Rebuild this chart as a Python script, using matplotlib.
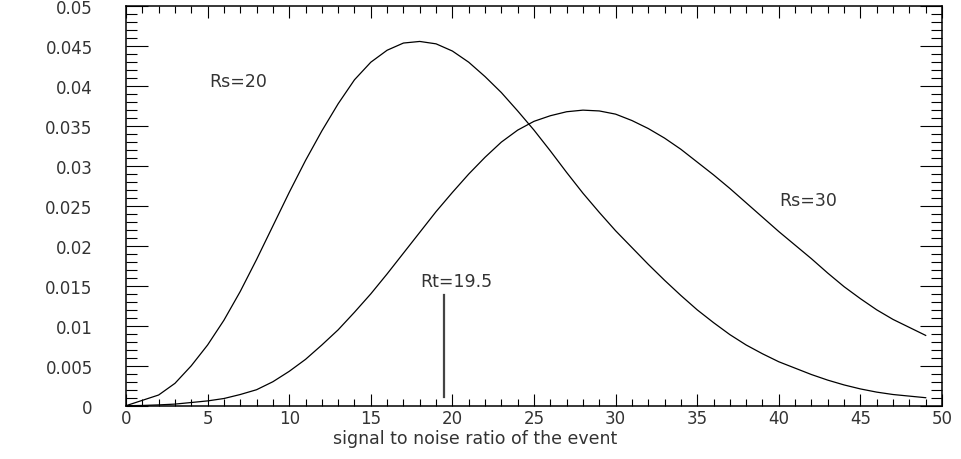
import numpy as np
import matplotlib
matplotlib.use("Agg")
import matplotlib.pyplot as plt
from matplotlib.ticker import MultipleLocator, FixedFormatter, FixedLocator

x = list(range(0, 50))

rs20 = [0.0000, 0.00067, 0.00134, 0.0028, 0.0050, 0.0076, 0.0107, 0.0143, 0.0183, 0.0225,
        0.0267, 0.0307, 0.0344, 0.0378, 0.0408, 0.0430, 0.0445, 0.0454, 0.0456, 0.0453,
        0.0444, 0.0430, 0.0412, 0.0392, 0.0369, 0.0345, 0.0319, 0.0292, 0.0266, 0.0242,
        0.0219, 0.0198, 0.0177, 0.0157, 0.0138, 0.0120, 0.0104, 0.0089, 0.0076, 0.0065,
        0.0055, 0.0047, 0.0039, 0.0032, 0.0026, 0.0021, 0.0017, 0.0014, 0.0012, 0.0010]

rs30 = [0.0000, 0.00003, 0.0001, 0.0002, 0.0004, 0.0006, 0.0009, 0.0014, 0.0020, 0.0030,
        0.0043, 0.0058, 0.0076, 0.0095, 0.0117, 0.0140, 0.0165, 0.0191, 0.0217, 0.0243,
        0.0267, 0.0290, 0.0311, 0.0330, 0.0345, 0.0356, 0.0363, 0.0368, 0.0370, 0.0369,
        0.0365, 0.0357, 0.0347, 0.0335, 0.0321, 0.0305, 0.0289, 0.0272, 0.0254, 0.0236,
        0.0218, 0.0201, 0.0184, 0.0166, 0.0149, 0.0134, 0.0120, 0.0108, 0.0098, 0.0088]

xticks = [0, 5, 10, 15, 20, 25, 30, 35, 40, 45, 50]
xticklabels = ["0", "5", "10", "15", "20", "25", "30", "35", "40", "45", "50"]
yticks = [0, 0.005, 0.01, 0.015, 0.02, 0.025, 0.03, 0.035, 0.04, 0.045, 0.05]
yticklabels = ["0", "0.005", "0.01", "0.015", "0.02", "0.025", "0.03", "0.035", "0.04", "0.045", "0.05"]

rt_value = 19.5
rt_top = 0.0138
rt_bottom = 0.0011
xlabel = "signal to noise ratio of the event"

plt.rcParams['font.family'] = ['DejaVu Sans']

fig = plt.figure(figsize=(9.61, 4.60), dpi=100)
ax = fig.add_axes([126/961, 1 - 406.7/460, 816/961, 399.4/460])

ax.plot(x, rs20, color="black", lw=0.9)
ax.plot(x, rs30, color="black", lw=0.9)
ax.plot([rt_value, rt_value], [rt_bottom, rt_top], color="#444444", lw=1.6)

ax.set_xlim(0, 50)
ax.set_ylim(0, 0.05)

ax.xaxis.set_major_locator(FixedLocator(xticks))
ax.xaxis.set_major_formatter(FixedFormatter(xticklabels))
ax.xaxis.set_minor_locator(MultipleLocator(1))
ax.yaxis.set_major_locator(FixedLocator(yticks))
ax.yaxis.set_major_formatter(FixedFormatter(yticklabels))
ax.yaxis.set_minor_locator(MultipleLocator(0.001))

ax.tick_params(axis="x", which="major", direction="in", length=8.6, width=0.8,
               top=True, bottom=True, pad=2.5, labelsize=12, labelcolor="#333333")
ax.tick_params(axis="x", which="minor", direction="in", length=5, width=0.8,
               top=True, bottom=True)
ax.tick_params(axis="y", which="major", direction="in", length=15.8, width=0.8,
               left=True, right=True, pad=24, labelsize=12, labelcolor="#333333")
ax.tick_params(axis="y", which="minor", direction="in", length=7.9, width=0.8,
               left=True, right=True)
for sp in ax.spines.values():
    sp.set_linewidth(1.1)

ax.text(5.1, 0.0406, "Rs=20", fontsize=12.5, va="center", ha="left", color="#333333")
ax.text(40.0, 0.0257, "Rs=30", fontsize=12.5, va="center", ha="left", color="#333333")
ax.text(18.0, 0.0156, "Rt=19.5", fontsize=12.5, va="center", ha="left", color="#333333")

fig.text(475/961, 1 - 439/460, xlabel, fontsize=12.5, ha="center", va="center", color="#333333")

fig.savefig("out.png", dpi=100)
